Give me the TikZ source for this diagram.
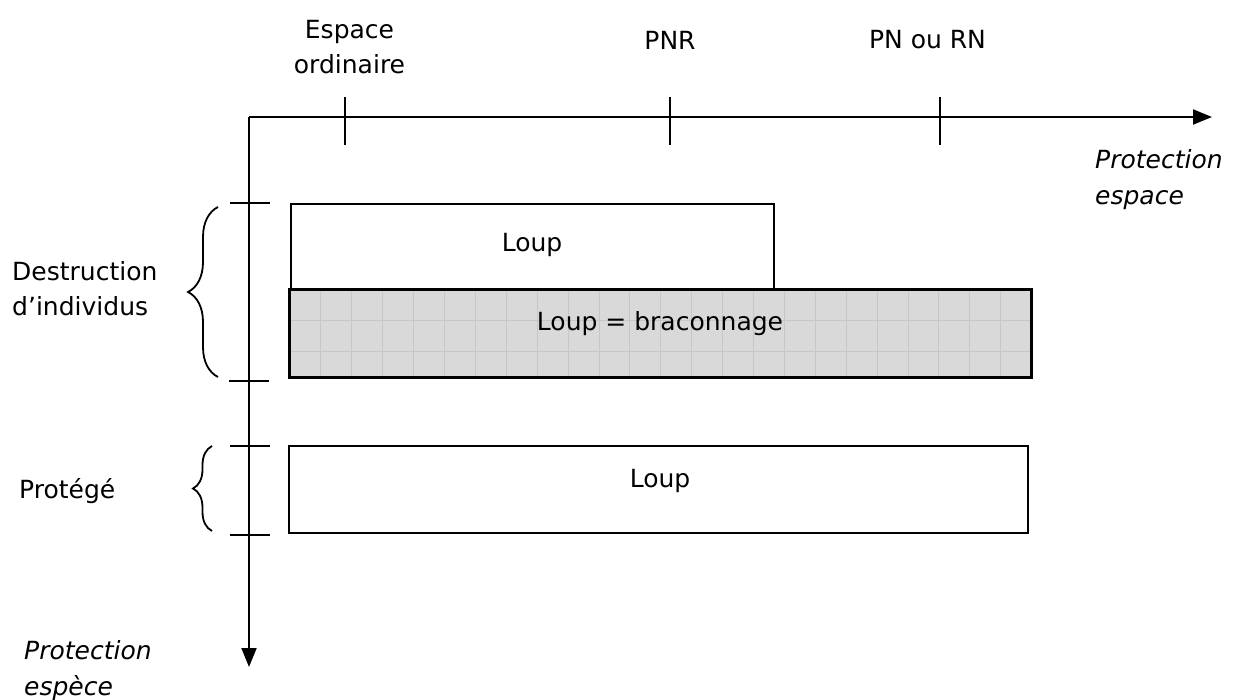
\documentclass[tikz,border=0pt]{standalone}
\usepackage{fontspec}
\setmainfont{DejaVu Sans}
\usetikzlibrary{arrows.meta,decorations.pathreplacing}

\begin{document}
\begin{tikzpicture}[x=1pt, y=-1pt,
                    axisline/.style={line width=2pt, -{Triangle[length=19pt,width=15pt]}},
                    tickline/.style={line width=1.8pt},
                    boxnode/.style={rectangle, draw=black, line width=2.2pt, inner sep=0pt},
                    labelnode/.style={inner sep=0pt, font=\fontsize{25}{35}\selectfont, align=center},
                    italnode/.style={inner sep=0pt, font=\fontsize{25}{36}\selectfont\itshape, align=left},
                    bracepath/.style={decorate, decoration={brace, amplitude=#1}, line width=1.8pt}]
    \useasboundingbox (0,0) rectangle (1237,700);

    % axes
    \coordinate (o) at (249,117);
    \coordinate (xend) at (1212,117);
    \coordinate (yend) at (249,667);
    \draw[axisline] (o) -- (xend);
    \draw[axisline] (o) -- (yend);

    % ticks on the space axis
    \coordinate (tord) at (345,117);
    \coordinate (tpnr) at (670,117);
    \coordinate (tpn) at (940,117);
    \draw[tickline] (tord) ++(0,-20) -- ++(0,48);
    \draw[tickline] (tpnr) ++(0,-20) -- ++(0,48);
    \draw[tickline] (tpn) ++(0,-20) -- ++(0,48);

    % ticks on the species axis
    \coordinate (tda) at (249,203);
    \coordinate (tdb) at (249,381);
    \coordinate (tpa) at (249,446);
    \coordinate (tpb) at (249,535);
    \draw[tickline] (tda) ++(-19,0) -- ++(40,0);
    \draw[tickline] (tdb) ++(-20,0) -- ++(40,0);
    \draw[tickline] (tpa) ++(-19,0) -- ++(40,0);
    \draw[tickline] (tpb) ++(-19,0) -- ++(40,0);

    % boxes
    \node[boxnode, minimum width=483pt, minimum height=86pt] (loupa) at (532.5,247) {};
    \node[rectangle, fill=black!15, inner sep=0pt, minimum width=741pt, minimum height=87pt] (loupb) at (660.5,333.5) {};
    \draw[black!22, line width=0.5pt, shift={(loupb.north west)}] (0,0) grid[step=30.9pt] (741,87);
    \draw[line width=2.8pt] (loupb.north west) rectangle (loupb.south east);
    \node[boxnode, minimum width=739pt, minimum height=87pt] (loupc) at (658.5,489.5) {};

    \node[labelnode] (txta) at (532,245) {Loup};
    \node[labelnode] (txtb) at (660,323.5) {Loup = braconnage};
    \node[labelnode] (txtc) at (660,481) {Loup};

    % labels
    \node[labelnode] (lord) at (349.5,47) {Espace\\ordinaire};
    \node[labelnode] (lpnr) at (670,40) {PNR};
    \node[labelnode] (lpn) at (927.5,40) {PN ou RN};
    \node[italnode, anchor=west] (lesp) at (1095,180) {Protection\\espace};
    \node[labelnode, align=left, anchor=west] (ldes) at (12,289) {Destruction\\d’individus};
    \node[labelnode, anchor=base west] (lpro) at (19,498) {Protégé};
    \node[italnode, anchor=west] (lspe) at (24,671) {Protection\\espèce};

    % braces
    \draw[bracepath=30pt] (218,377) -- (218,207);
    \draw[bracepath=19pt] (212,531) -- (212,446);
\end{tikzpicture}
\end{document}
